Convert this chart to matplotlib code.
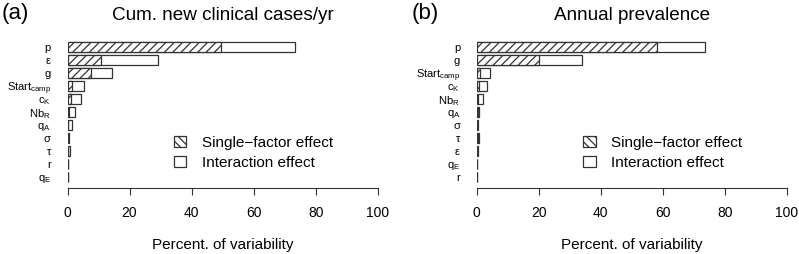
import matplotlib
matplotlib.use("Agg")
import matplotlib.pyplot as plt
from matplotlib.patches import Patch

plt.rcParams['font.family'] = ['Liberation Sans', 'DejaVu Sans']
plt.rcParams['mathtext.fontset'] = 'custom'
plt.rcParams['mathtext.rm'] = 'Liberation Sans'
plt.rcParams['mathtext.default'] = 'regular'
plt.rcParams['hatch.linewidth'] = 0.9

# panel (a): cumulative new clinical cases / yr
labels_a = ['p', 'ε', 'g', 'Start$_{camp}$', 'c$_{K}$', 'Nb$_{R}$', 'q$_{A}$',
            'σ', 'τ', 'r', 'q$_{E}$']
single_a = [49.4, 10.8, 7.6, 1.4, 1.1, 0.5, 0.3, 0.3, 0.3, 0.1, 0.05]
total_a = [73.4, 29.2, 14.3, 5.3, 4.2, 2.5, 1.3, 0.6, 0.7, 0.25, 0.15]

# panel (b): annual prevalence
labels_b = ['p', 'g', 'Start$_{camp}$', 'c$_{K}$', 'Nb$_{R}$', 'q$_{A}$',
            'σ', 'τ', 'ε', 'q$_{E}$', 'r']
single_b = [58.1, 20.1, 1.2, 0.7, 0.3, 0.3, 0.2, 0.4, 0.1, 0.1, 0.05]
total_b = [73.5, 34.1, 4.4, 3.4, 2.0, 0.9, 0.5, 0.6, 0.3, 0.2, 0.1]

xticks = [0, 20, 40, 60, 80, 100]
edge = '#333333'

W, H = 799, 254
fig = plt.figure(figsize=(W / 100, H / 100), dpi=100)


def panel(left_px, labels, single, total, tag, title):
    ax = fig.add_axes([left_px / W, (H - 183.2) / H, 310.2 / W, 142.4 / H])
    n = len(labels)
    ypos = list(range(n - 1, -1, -1))
    ax.barh(ypos, total, height=0.78, color='white', edgecolor=edge, linewidth=0.9)
    ax.barh(ypos, single, height=0.78, color='white', edgecolor=edge,
            linewidth=0.9, hatch='////')
    ax.set_ylim(-0.5, n - 0.5)
    ax.set_xlim(0, 100)
    ax.set_yticks(ypos)
    ax.set_yticklabels(labels, fontsize=8)
    ax.tick_params(axis='y', length=0, pad=12)
    ax.set_xticks(xticks)
    ax.set_xticklabels([str(t) for t in xticks], fontsize=9.5)
    ax.tick_params(axis='x', length=5.3, width=0.8, pad=8, color=edge)
    for s in ['top', 'right', 'left']:
        ax.spines[s].set_visible(False)
    ax.spines['bottom'].set_position(('outward', 3.3))
    ax.spines['bottom'].set_linewidth(0.8)
    ax.spines['bottom'].set_color(edge)
    ax.set_xlabel('Percent. of variability', fontsize=11, labelpad=13)

    handles = [Patch(facecolor='white', edgecolor=edge, linewidth=0.9, hatch='\\\\\\\\'),
               Patch(facecolor='white', edgecolor=edge, linewidth=0.9)]
    ax.legend(handles, ['Single\u2212factor effect', 'Interaction effect'],
              loc='upper left', bbox_to_anchor=(0.344, 0.33), frameon=False,
              fontsize=11, handlelength=0.8, handleheight=0.75,
              handletextpad=1.0, labelspacing=0.38, borderpad=0, borderaxespad=0)

    cx = (left_px + 155.1) / W
    fig.text(cx, 1 - 15 / H, title, fontsize=13.6, ha='center', va='center')
    fig.text((left_px - 65.5) / W, 1 - 14 / H, tag, fontsize=16, ha='left', va='center')
    return ax


panel(67.5, labels_a, single_a, total_a, '(a)', 'Cum. new clinical cases/yr')
panel(476.7, labels_b, single_b, total_b, '(b)', 'Annual prevalence')

fig.savefig('out.png', dpi=100)
